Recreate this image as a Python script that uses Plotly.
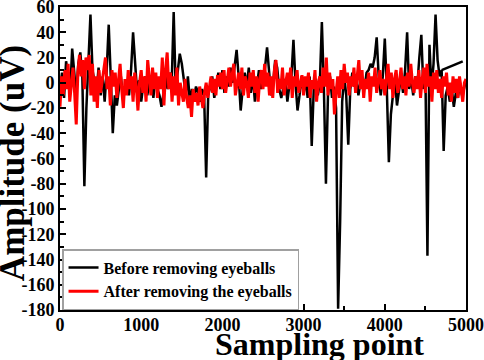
import plotly.graph_objects as go

# Black: before removing eyeballs (sampled every 25 points)
black_x = list(range(0, 5001, 25))
black_y = [
    -5, 8, -12, 17, 5, -8, 27, 10, -10, 15,
    24, 5, -82, -20, 20, 54, 10, 0, -8, 12,
    -10, 5, -15, 10, 46, 5, -40, -10, -18, -5,
    5, -12, -5, 0, -10, 10, 40, 15, -8, 2,
    -15, -2, 5, -10, 0, 3, -12, 5, -5, -10,
    -19, -8, 5, -5, 8, -2, 56, -5, 10, 23,
    15, 0, -10, 5, -15, -5, -12, -3, -8, -15,
    -5, -10, -75, -10, -3, 5, -12, 0, 8, -5,
    10, -8, 5, -3, 12, 0, 15, 26, 5, -22,
    -5, 8, -3, 12, -8, 5, -15, 0, 10, -5,
    5, 12, 28, 5, -10, 0, 18, 12, -5, -12,
    -5, 3, -15, -2, 5, 34, 0, -22, -10, 5,
    -8, 2, -12, 5, -50, -5, 3, -10, 0, 48,
    -5, -80, -10, 5, -12, -3, -20, -179, -110, -15,
    5, -10, -49, -5, 8, -3, 5, -10, 0, 3,
    -5, 8, 10, 15, 12, 20, 36, 5, -10, 5,
    35, -5, -63, -25, -10, 3, -18, -5, 5, -8,
    10, 40, -5, 3, -10, 5, -3, 20, 38, -5,
    10, -137, 30, -5, 15, 54, 18, 5, 10, -54,
    -10, -3, -15, -5, -19, -8, -12, 0, -10, -5,
    2,
]
# separate straight segment of the black record near the end
black_tail_x = [4700, 4960]
black_tail_y = [10, 17]

# Red: after removing the eyeballs (sampled every 20 points)
red_x = list(range(0, 5001, 20))
red_y = [
    -19, 5, -10, 10, -5, 15, -15, 0, 12, -8,
    -33, 8, 22, 5, 18, -5, 20, 10, 22, -10,
    15, -15, 5, -20, 10, -8, 3, 12, 20, -5,
    5, -18, 10, -3, 8, -12, 0, 15, -5, -20,
    3, -10, 10, -5, 5, -15, 8, -3, -22, 0,
    10, -8, 5, -15, 18, 0, -10, 12, -5, 8,
    -12, 5, -5, 20, -18, 10, 24, -5, 8, -15,
    5, -10, 12, -18, 0, -8, -15, 3, -12, -20,
    -10, -27, -5, -15, -8, -18, -3, -12, -20, -8,
    0, -12, -5, 5, -8, 3, -10, 6, -3, 8,
    -5, 10, -8, 3, 12, -3, 5, 15, -10, 0,
    8, -5, 12, -10, 5, 0, -12, 8, -3, 10,
    -8, 5, -15, 3, 10, -5, 15, -3, 8, -10,
    5, -12, 10, 18, -8, 3, -5, 12, -10, 0,
    8, -5, 12, -12, 5, -3, 10, -8, 0, 6,
    -10, 5, -3, 8, -12, 2, -5, 10, -15, 0,
    5, -8, 12, -3, 20, -10, 8, -5, 3, -25,
    -8, 5, -12, 10, -5, 15, 0, 8, -10, 5,
    -3, 12, -8, 5, 18, -5, 10, -12, 3, -5,
    8, -15, 5, -3, 12, -8, 0, 10, -5, 3,
    -10, 5, 15, -5, 8, -12, 3, 10, -8, 0,
    12, -5, 5, -10, 8, -3, 15, 0, -8, 5,
    -5, 10, -12, 3, 12, -8, 15, -3, 5, -15,
    8, -5, 10, -8, 3, -12, 5, -3, 8, -10,
    0, -15, 5, -8, 3, -12, 5, -5, -15, 0,
    3,
]

x_ticks = [0, 1000, 2000, 3000, 4000, 5000]
x_ticktext = ["0", "1000", "2000", "3000", "4000", "5000"]
y_ticks = [60, 40, 20, 0, -20, -40, -60, -80, -100, -120, -140, -160, -180]
y_ticktext = ["60", "40", "20", "0", "-20", "-40", "-60", "-80", "-100", "-120", "-140", "-160", "-180"]

FONT = "Liberation Serif"

fig = go.Figure()
fig.add_trace(go.Scatter(
    x=black_x + [None] + black_tail_x,
    y=black_y + [None] + black_tail_y,
    mode="lines", line=dict(color="black", width=2.5),
    name="Before removing eyeballs", connectgaps=False,
))
fig.add_trace(go.Scatter(
    x=red_x, y=red_y, mode="lines", line=dict(color="red", width=3),
    name="After removing the eyeballs",
))

axis_common = dict(
    showline=True, linecolor="black", linewidth=2, mirror=True,
    ticks="inside", ticklen=6, tickwidth=1.5, tickcolor="black",
    showgrid=False, zeroline=False, automargin=False,
    ticklabeloverflow="allow",
    tickfont=dict(family=FONT, size=18, color="black", weight="bold"),
)

fig.update_layout(
    width=484, height=360,
    margin=dict(l=60, r=18, t=7, b=50),
    paper_bgcolor="white", plot_bgcolor="white",
    showlegend=True,
    legend=dict(
        x=0.005, y=0.0, xanchor="left", yanchor="bottom",
        bgcolor="white", bordercolor="#a0a0a0", borderwidth=1.5,
        font=dict(family=FONT, size=16, color="black", weight="bold"),
        tracegroupgap=0, itemwidth=30,
    ),
    xaxis=dict(
        range=[0, 5000], tickvals=x_ticks, ticktext=x_ticktext,
        minor=dict(ticks="inside", dtick=500, ticklen=4, tickcolor="black", tickwidth=1.5),
        ticklabelstandoff=-3,
        **axis_common,
    ),
    yaxis=dict(
        range=[-180, 60], tickvals=y_ticks, ticktext=y_ticktext,
        minor=dict(ticks="inside", dtick=10, ticklen=4, tickcolor="black", tickwidth=1.5),
        **axis_common,
    ),
    annotations=[
        dict(text="Sampling point", xref="paper", yref="paper", x=0.64, y=-0.112,
             xanchor="center", yanchor="middle", showarrow=False,
             font=dict(family=FONT, size=32, color="black", weight="bold")),
        dict(text="Amplitude (uV)", xref="paper", yref="paper", x=-0.118, y=0.485,
             xanchor="center", yanchor="middle", showarrow=False, textangle=-90,
             font=dict(family=FONT, size=35, color="black", weight="bold")),
    ],
)

fig.write_html("out.html", config={"displayModeBar": False},
               post_script="document.body.style.margin='0px';")
